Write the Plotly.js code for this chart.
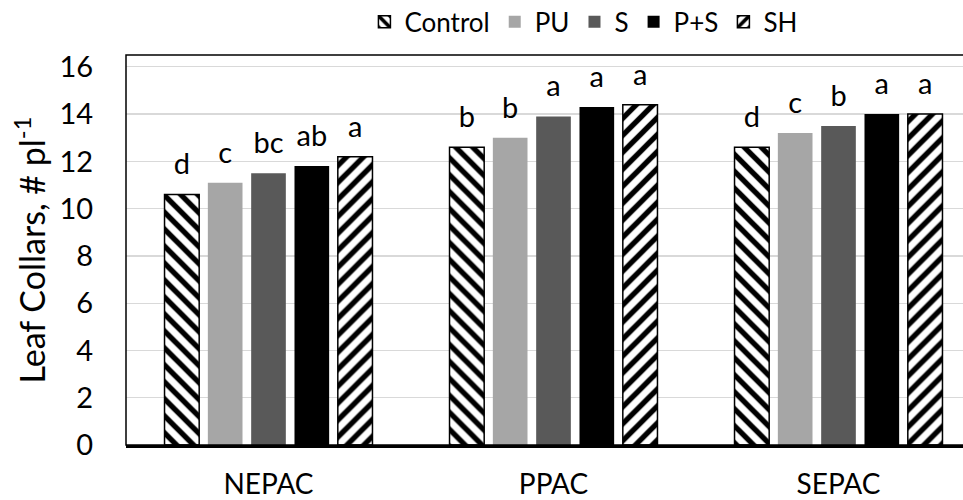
<!DOCTYPE html>
<html>
<head>
<meta charset="utf-8">
<script src="https://cdn.plot.ly/plotly-3.0.1.min.js"></script>
<style>
html,body{margin:0;padding:0;overflow:hidden;background:#fff;}
#chart{width:1000px;height:500px;}
</style>
</head>
<body>
<div id="chart"></div>
<script>
var categories = ["NEPAC", "PPAC", "SEPAC"];
var seriesNames = ["Control", "PU", "S", "P+S", "SH"];
var controlVals = [10.6, 12.6, 12.6];
var puVals = [11.1, 13.0, 13.2];
var sVals = [11.5, 13.9, 13.5];
var psVals = [11.8, 14.3, 14.0];
var shVals = [12.2, 14.4, 14.0];
var controlLetters = ["d", "b", "d"];
var puLetters = ["c", "b", "c"];
var sLetters = ["bc", "a", "b"];
var psLetters = ["ab", "a", "a"];
var shLetters = ["a", "a", "a"];
var yTicks = [0, 2, 4, 6, 8, 10, 12, 14, 16];

var values = [controlVals, puVals, sVals, psVals, shVals];
var letters = [controlLetters, puLetters, sLetters, psLetters, shLetters];
var FONT = "Lato, 'Open Sans', sans-serif";

var markers = [
  {color: "white", line: {color: "black", width: 1.5},
   pattern: {shape: "\\", fgcolor: "black", bgcolor: "white", size: 12, solidity: 0.45}},
  {color: "#a6a6a6", line: {width: 0}},
  {color: "#595959", line: {width: 0}},
  {color: "#000000", line: {width: 0}},
  {color: "white", line: {color: "black", width: 1.5},
   pattern: {shape: "/", fgcolor: "black", bgcolor: "white", size: 12, solidity: 0.45}}
];

var traces = [];
for (var i = 0; i < seriesNames.length; i++) {
  traces.push({
    type: "bar", name: seriesNames[i], x: categories, y: values[i],
    marker: markers[i], offsetgroup: String(i), hoverinfo: "skip"
  });
}
for (var j = 0; j < seriesNames.length; j++) {
  traces.push({
    type: "scatter", mode: "markers+text", x: categories, y: values[j],
    text: letters[j], textposition: "top center",
    textfont: {family: FONT, size: 29, color: "black"},
    marker: {size: 19, color: "rgba(0,0,0,0)"},
    offsetgroup: String(j), showlegend: false, hoverinfo: "skip", cliponaxis: false
  });
}

var layout = {
  width: 1000, height: 500,
  margin: {l: 126, r: 19, t: 55, b: 55, autoexpand: false},
  paper_bgcolor: "white", plot_bgcolor: "white",
  font: {family: FONT, size: 28, color: "black"},
  barmode: "group", bargap: 0.24, bargroupgap: 0.2,
  scattermode: "group", scattergap: 0.24,
  showlegend: true,
  legend: {orientation: "h", x: 0.535, xanchor: "center", y: 1.085, yanchor: "middle",
           font: {family: FONT, size: 26, color: "black"}, itemwidth: 30,
           traceorder: "normal", bgcolor: "rgba(0,0,0,0)"},
  xaxis: {type: "category", showline: true, linecolor: "black", linewidth: 2.5,
          ticks: "outside", ticklen: 13, tickcolor: "rgba(0,0,0,0)",
          showgrid: false, zeroline: false, fixedrange: true, automargin: false,
          tickfont: {family: FONT, size: 28, color: "black"}},
  yaxis: {range: [0, 16.5], tickvals: yTicks, showgrid: true, gridcolor: "#d9d9d9", gridwidth: 1.3,
          zeroline: false, showline: false, ticks: "outside", ticklen: 26, tickcolor: "rgba(0,0,0,0)",
          tickfont: {family: FONT, size: 29, color: "black"}, fixedrange: true, automargin: false,
          title: {text: "Leaf Collars, # pl<sup>-1</sup>", font: {family: FONT, size: 34, color: "black"}, standoff: 3}},
  shapes: [{type: "rect", xref: "paper", yref: "paper", x0: 0, x1: 1, y0: 0, y1: 1,
            line: {color: "black", width: 1.5}, fillcolor: "rgba(0,0,0,0)", layer: "above"}]
};

Plotly.newPlot("chart", traces, layout, {displayModeBar: false, staticPlot: true});
</script>
</body>
</html>
